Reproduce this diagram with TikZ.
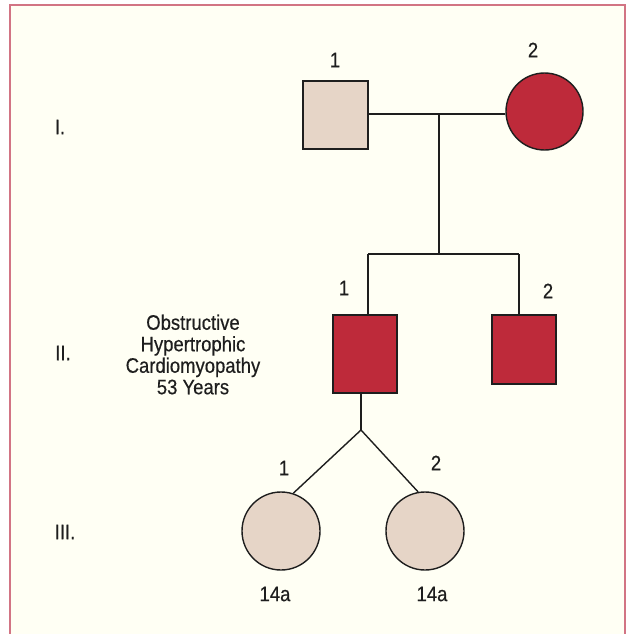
\documentclass[tikz,border=0pt]{standalone}
\usepackage{fontspec}
\setmainfont{Liberation Sans}[FakeStretch=0.88,FakeBold=0.4]
\definecolor{affected}{HTML}{BE2A3A}
\definecolor{unaffected}{HTML}{E6D5C7}
\definecolor{paper}{HTML}{FFFFF4}
\definecolor{framecol}{HTML}{D27484}
\definecolor{ink}{HTML}{1E1E1E}
\begin{document}
\begin{tikzpicture}
[x=1pt,y=-1pt,line width=1.4pt,draw=ink,
every node/.style={font=\fontsize{21}{21.5}\selectfont,text=ink},
male/.style={rectangle,draw=ink,inner sep=0pt,minimum width=64pt},
female/.style={circle,draw=ink,inner sep=0pt,minimum size=78pt}]
\useasboundingbox (0,0) rectangle (626,634);
\fill[paper] (10,5) rectangle (625,634);
\draw[framecol,line width=2pt] (10,634) -- (10,5) -- (625,5) -- (625,634);
% generation I
\node[male,fill=unaffected,minimum width=65pt,minimum height=68pt] (i1) at (335.5,115) {};
\node[female,fill=affected,minimum size=77pt] (i2) at (544.5,111.5) {};
% generation II
\node[male,fill=affected,minimum height=78pt] (ii1) at (365,354) {};
\node[male,fill=affected,minimum height=69pt] (ii2) at (524,349.5) {};
% generation III
\node[female,fill=unaffected] (iii1) at (281,531) {};
\node[female,fill=unaffected] (iii2) at (425,531) {};
% junctions
\coordinate (m) at (439,114);
\coordinate (s) at (439,254);
\coordinate (sl) at (368,254);
\coordinate (sr) at (519,254);
\coordinate (tw) at (361,430);
\draw (i1.east |- m) -- (i2.west |- m);
\draw (m) -- (s);
\draw (sl) -- (sr);
\foreach \from/\to in {sl/ii1.north,sr/ii2.north,tw/ii1.south}
\draw (\from) -- (\from |- \to);
\draw (iii1.72) -- (tw) -- (iii2.100);
% labels
\node (g1) at (60,127) {I.};
\node (g2) at (63,353) {II.};
\node (g3) at (65,532) {III.};
\node[align=center] (dx) at (193,354.5) {Obstructive\\Hypertrophic\\Cardiomyopathy\\53 Years};
\node (n11) at (335,60) {1};
\node (n12) at (533,50) {2};
\node (n21) at (344,288) {1};
\node (n22) at (548,291) {2};
\node (n31) at (284,468) {1};
\node (n32) at (436,463) {2};
\node (a31) at (275,594) {14a};
\node (a32) at (432,594) {14a};
\end{tikzpicture}
\end{document}
